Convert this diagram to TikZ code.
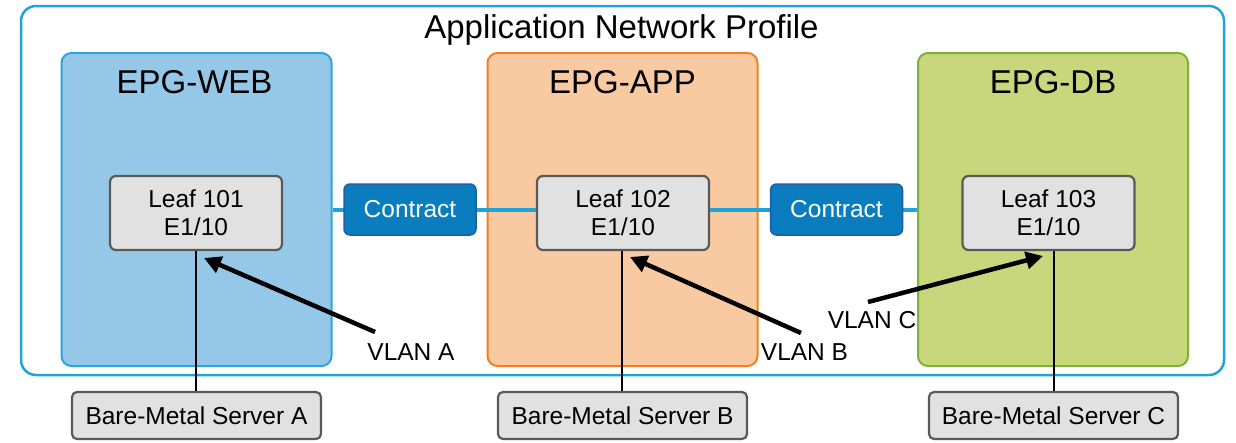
\documentclass[tikz,border=0pt]{standalone}
\usepackage{fontspec}
\setmainfont{Liberation Sans}
\usetikzlibrary{arrows.meta}

\definecolor{profileblue}{HTML}{1FA3DC}
\definecolor{webfill}{HTML}{95C8E8}
\definecolor{webline}{HTML}{27A5DE}
\definecolor{appfill}{HTML}{F9CAA1}
\definecolor{appline}{HTML}{F57F20}
\definecolor{dbfill}{HTML}{C8D77B}
\definecolor{dbline}{HTML}{7DB235}
\definecolor{boxgray}{HTML}{E1E1E1}
\definecolor{boxedge}{HTML}{595959}
\definecolor{contractfill}{HTML}{0A7DBF}
\definecolor{contractedge}{HTML}{1A5DAE}

\tikzset{
  profile/.style={draw=profileblue, line width=2.5pt, rounded corners=15pt},
  epg/.style={rounded corners=10pt, line width=2pt, minimum width=270pt, minimum height=313pt, inner sep=0pt},
  epgtitle/.style={font=\fontsize{33}{38}\selectfont, anchor=base},
  leafbox/.style={draw=boxedge, fill=boxgray, line width=2.2pt, rounded corners=6pt,
    minimum width=172pt, minimum height=74pt, align=center, inner sep=0pt,
    font=\fontsize{24.5}{28}\selectfont},
  contractbox/.style={draw=contractedge, fill=contractfill, line width=1.5pt, rounded corners=6pt,
    minimum width=132pt, minimum height=51pt, inner sep=0pt, text=white,
    font=\fontsize{24.5}{28}\selectfont},
  serverbox/.style={draw=boxedge, fill=boxgray, line width=2.2pt, rounded corners=5pt,
    minimum width=249pt, minimum height=47pt, inner sep=0pt,
    font=\fontsize{24.5}{28}\selectfont},
  vlanlabel/.style={font=\fontsize{24.5}{28}\selectfont, inner sep=0pt},
  link/.style={draw=profileblue, line width=4pt},
  drop/.style={draw=black, line width=1.8pt},
  vlanarrow/.style={draw=black, line width=4.5pt, -{Triangle[length=17pt,width=17pt]}}
}

\begin{document}
\begin{tikzpicture}[x=1pt,y=-1pt]
  \useasboundingbox (0,0) rectangle (1236,442);

  % application network profile frame
  \draw[profile] (21,6) rectangle (1224,375);
  \node[font=\fontsize{33}{38}\selectfont, anchor=base] (title) at (621.5,38) {Application Network Profile};

  % endpoint groups
  \node[epg, draw=webline, fill=webfill] (web) at (196.5,209.5) {};
  \node[epg, draw=appline, fill=appfill] (app) at (622.5,209.5) {};
  \node[epg, draw=dbline, fill=dbfill] (db) at (1053,209.5) {};
  \node[epgtitle] (webtitle) at (194.5,93) {EPG-WEB};
  \node[epgtitle] (apptitle) at (622.5,93) {EPG-APP};
  \node[epgtitle] (dbtitle) at (1053,93) {EPG-DB};

  % leaf switches
  \node[leafbox] (leafA) at (196,213) {Leaf 101\\E1/10};
  \node[leafbox] (leafB) at (623,213) {Leaf 102\\E1/10};
  \node[leafbox] (leafC) at (1048.5,213) {Leaf 103\\E1/10};

  % contract links
  \draw[link] (web.east |- 0,209.5) -- (leafB.west |- 0,209.5);
  \draw[link] (leafB.east |- 0,209.5) -- (db.west |- 0,209.5);
  \node[contractbox] (c1) at (410,209.5) {Contract};
  \node[contractbox] (c2) at (836.5,209.5) {Contract};

  % bare-metal servers
  \node[serverbox] (srvA) at (196.5,415.5) {Bare-Metal Server A};
  \node[serverbox] (srvB) at (622.5,415.5) {Bare-Metal Server B};
  \node[serverbox] (srvC) at (1053.5,415.5) {Bare-Metal Server C};

  % server uplinks
  \draw[drop] (leafA.south -| 196,0) -- (srvA.north -| 196,0);
  \draw[drop] (leafB.south -| 622,0) -- (srvB.north -| 622,0);
  \draw[drop] (leafC.south -| 1054,0) -- (srvC.north -| 1054,0);

  % VLAN labels and arrows
  \node[vlanlabel] (vlanA) at (411,352) {VLAN A};
  \node[vlanlabel] (vlanB) at (804.5,352) {VLAN B};
  \node[vlanlabel] (vlanC) at (872,320) {VLAN C};
  \coordinate (vaStart) at (375,332);
  \coordinate (vaTip) at (204,258);
  \coordinate (vbStart) at (801,333);
  \coordinate (vbTip) at (630,257);
  \coordinate (vcStart) at (868,302);
  \coordinate (vcTip) at (1043,256);
  \draw[vlanarrow] (vaStart) -- (vaTip);
  \draw[vlanarrow] (vbStart) -- (vbTip);
  \draw[vlanarrow] (vcStart) -- (vcTip);
\end{tikzpicture}
\end{document}
